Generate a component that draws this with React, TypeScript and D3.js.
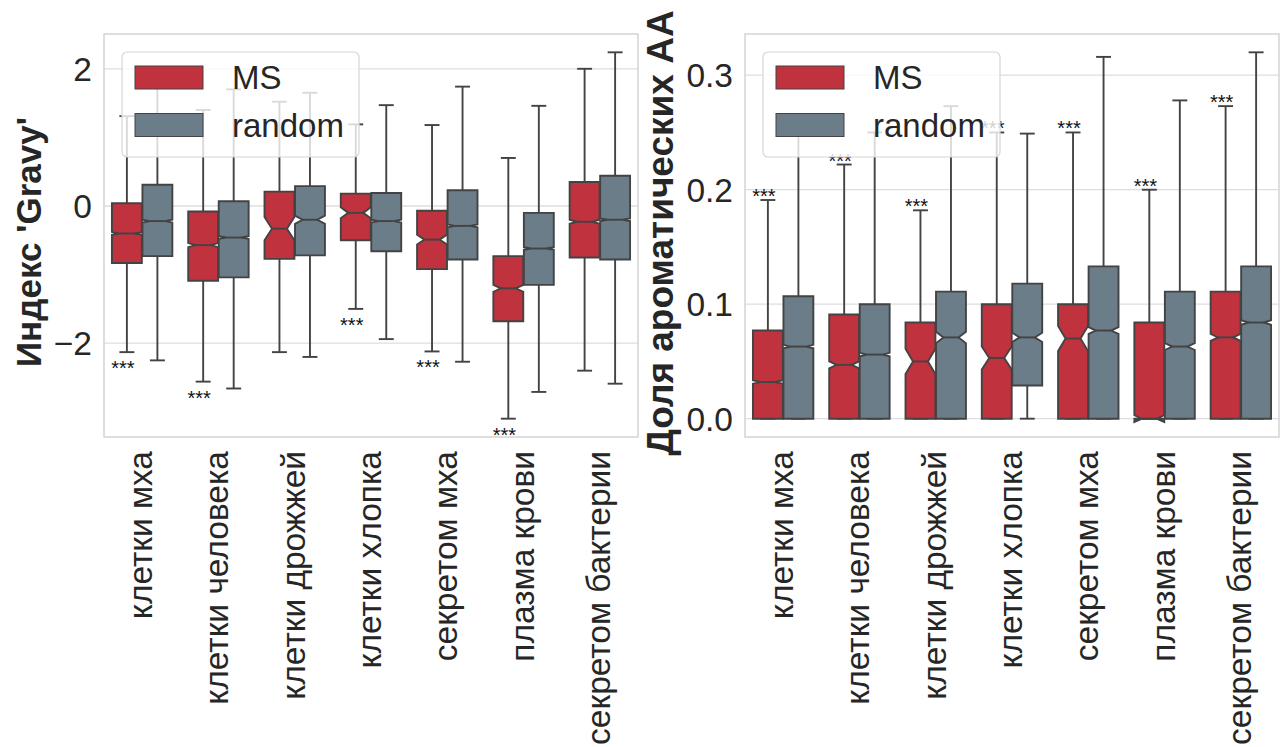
import React from 'react';
import * as d3 from 'd3';

const categories = [
  'клетки мха',
  'клетки человека',
  'клетки дрожжей',
  'клетки хлопка',
  'секретом мха',
  'плазма крови',
  'секретом бактерии',
];
const seriesNames = ['MS', 'random'];
const seriesColors = ['#c1323f', '#6b7d88'];

// [lower whisker, q1, median, q3, upper whisker, notch half-height]
const gravyMS = [
  [-2.13, -0.83, -0.40, 0.04, 1.31, 0.02],
  [-2.56, -1.09, -0.57, -0.08, 1.40, 0.03],
  [-2.13, -0.77, -0.33, 0.21, 1.52, 0.17],
  [-1.50, -0.50, -0.10, 0.18, 1.19, 0.08],
  [-2.12, -0.92, -0.49, -0.07, 1.18, 0.07],
  [-3.10, -1.68, -1.20, -0.73, 0.70, 0.05],
  [-2.40, -0.75, -0.23, 0.35, 2.00, 0.03],
];
const gravyRandom = [
  [-2.25, -0.73, -0.22, 0.31, 1.90, 0.02],
  [-2.66, -1.04, -0.46, 0.07, 1.70, 0.02],
  [-2.20, -0.72, -0.20, 0.29, 1.65, 0.06],
  [-1.94, -0.66, -0.22, 0.19, 1.47, 0.02],
  [-2.27, -0.78, -0.29, 0.23, 1.74, 0.02],
  [-2.71, -1.15, -0.62, -0.10, 1.46, 0.02],
  [-2.59, -0.78, -0.20, 0.44, 2.24, 0.02],
];
const aromMS = [
  [0, 0, 0.032, 0.077, 0.191, 0.0015],
  [0, 0, 0.047, 0.091, 0.222, 0.003],
  [0, 0, 0.050, 0.084, 0.182, 0.011],
  [0, 0, 0.053, 0.100, 0.250, 0.010],
  [0, 0, 0.070, 0.100, 0.250, 0.011],
  [0, 0, 0.000, 0.084, 0.200, 0.003],
  [0, 0, 0.071, 0.111, 0.273, 0.003],
];
const aromRandom = [
  [0, 0, 0.063, 0.107, 0.262, 0.0015],
  [0, 0, 0.056, 0.100, 0.250, 0.0015],
  [0, 0, 0.071, 0.111, 0.273, 0.005],
  [0, 0.029, 0.071, 0.118, 0.249, 0.004],
  [0, 0, 0.077, 0.133, 0.316, 0.003],
  [0, 0, 0.063, 0.111, 0.278, 0.003],
  [0, 0, 0.084, 0.133, 0.320, 0.002],
];
const gravySig = [true, true, false, true, true, true, false];
const aromSig = [true, true, true, true, true, true, true];
const gravyTicks = [-2, 0, 2];
const aromTicks = [0, 0.1, 0.2, 0.3];

const FONT = '"Liberation Sans", Arial, Helvetica, sans-serif';
const EDGE = '#434343';
const GRID = '#dedede';

type PanelProps = {
  x0: number; x1: number; y0: number; y1: number;
  ms: number[][]; rnd: number[][];
  ticks: number[]; fmt: (v: number) => string;
  ylabel: string; ylabelX: number; ylabelY: number; ylabelSize: number;
  sig: boolean[]; sigBelow: boolean;
};

function Panel(p: PanelProps) {
  const all = [...p.ms, ...p.rnd];
  const lo = d3.min(all, (d) => d[0]) as number;
  const hi = d3.max(all, (d) => d[4]) as number;
  const pad = (hi - lo) * 0.05;
  const y = d3.scaleLinear().domain([lo - pad, hi + pad]).range([p.y1, p.y0]);
  const x = d3.scaleBand().domain(categories).range([p.x0, p.x1]);
  const bw = x.bandwidth();
  const boxW = (bw * 0.8) / 2 * 0.98;
  const offs = [-bw * 0.2, bw * 0.2];

  const boxes: any[] = [];
  const seriesData = [p.ms, p.rnd];
  categories.forEach((c, i) => {
    const gc = (x(c) as number) + bw / 2;
    seriesData.forEach((sd, s) => {
      const [wl, q1, med, q3, wh, n] = sd[i];
      const cx = gc + offs[s];
      const hw = boxW / 2;
      const bl = cx - hw, br = cx + hw, nl = cx - hw / 2, nr = cx + hw / 2;
      const pts: [number, number][] = [
        [bl, y(q1)], [br, y(q1)], [br, y(med - n)], [nr, y(med)], [br, y(med + n)],
        [br, y(q3)], [bl, y(q3)], [bl, y(med + n)], [nl, y(med)], [bl, y(med - n)],
      ];
      const path = d3.line()(pts) + 'Z';
      const capW = boxW / 2;
      boxes.push(
        <g key={`${i}-${s}`}>
          <line x1={cx} x2={cx} y1={y(q1)} y2={y(wl)} stroke={EDGE} strokeWidth={1.9} />
          <line x1={cx} x2={cx} y1={y(q3)} y2={y(wh)} stroke={EDGE} strokeWidth={1.9} />
          <line x1={cx - capW / 2} x2={cx + capW / 2} y1={y(wl)} y2={y(wl)} stroke={EDGE} strokeWidth={1.9} />
          <line x1={cx - capW / 2} x2={cx + capW / 2} y1={y(wh)} y2={y(wh)} stroke={EDGE} strokeWidth={1.9} />
          <path d={path} fill={seriesColors[s]} stroke={EDGE} strokeWidth={1.9} strokeLinejoin="miter" />
          <line x1={nl} x2={nr} y1={y(med)} y2={y(med)} stroke={EDGE} strokeWidth={1.9} />
        </g>
      );
    });
  });

  const sigs = categories.map((c, i) => {
    if (!p.sig[i]) return null;
    const cx = (x(c) as number) + bw / 2 + offs[0] - 4;
    const d = p.ms[i];
    const yy = p.sigBelow ? y(d[0]) + 23 : y(d[4]) + 3;
    return (
      <text key={i} x={cx} y={yy} textAnchor="middle" fontSize={20} fontFamily={FONT} fill="#111">
        ***
      </text>
    );
  });

  const lx = p.x0 + 18, ly = 52;
  return (
    <g>
      {p.ticks.map((t) => (
        <line key={t} x1={p.x0} x2={p.x1} y1={y(t)} y2={y(t)} stroke={GRID} strokeWidth={1.3} />
      ))}
      <rect x={p.x0} y={p.y0} width={p.x1 - p.x0} height={p.y1 - p.y0} fill="none" stroke="#d4d4d4" strokeWidth={1.5} />
      {p.ticks.map((t) => (
        <text key={t} x={p.x0 - 12} y={y(t)} dy="0.36em" textAnchor="end" fontSize={33.5} fontFamily={FONT} fill="#262626">
          {p.fmt(t)}
        </text>
      ))}
      {boxes}
      {sigs}
      <g>
        <rect x={lx} y={ly} width={237} height={105} rx={5} fill="#ffffff" fillOpacity={0.8} stroke="#d6d6d6" strokeWidth={1.2} />
        {seriesNames.map((s, k) => (
          <g key={s}>
            <rect x={lx + 13} y={ly + 14 + k * 47.5} width={68} height={23} fill={seriesColors[k]} stroke={EDGE} strokeWidth={1} />
            <text x={lx + 110} y={ly + 37 + k * 47.5} fontSize={33} fontFamily={FONT} fill="#262626">{s}</text>
          </g>
        ))}
      </g>
      {categories.map((c) => (
        <text key={c} transform={`translate(${(x(c) as number) + bw / 2},${p.y1 + 14}) rotate(-90)`} dy="0.3em" textAnchor="end" fontSize={33.5} fontFamily={FONT} fill="#262626">
          {c}
        </text>
      ))}
      <text transform={`translate(${p.ylabelX},${p.ylabelY}) rotate(-90)`} textAnchor="middle" fontSize={p.ylabelSize} fontWeight="bold" fontFamily={FONT} fill="#262626">
        {p.ylabel}
      </text>
    </g>
  );
}

export default function App() {
  const minusFmt = (v: number) => (v < 0 ? '\u2212' + Math.abs(v) : String(v));
  const oneDec = d3.format('.1f');
  return (
    <svg width={1288} height={747} style={{ position: 'absolute', left: 0, top: 0, background: '#fff' }}>
      <rect width={1288} height={747} fill="#fff" />
      <Panel x0={104} x1={638} y0={34} y1={437} ms={gravyMS} rnd={gravyRandom} ticks={gravyTicks} fmt={minusFmt}
        ylabel="Индекс 'Gravy'" ylabelX={41} ylabelY={242} ylabelSize={35} sig={gravySig} sigBelow={true} />
      <Panel x0={745} x1={1279} y0={34} y1={437} ms={aromMS} rnd={aromRandom} ticks={aromTicks} fmt={(v) => oneDec(v)}
        ylabel="Доля ароматических АА" ylabelX={673} ylabelY={233} ylabelSize={37} sig={aromSig} sigBelow={false} />
    </svg>
  );
}
